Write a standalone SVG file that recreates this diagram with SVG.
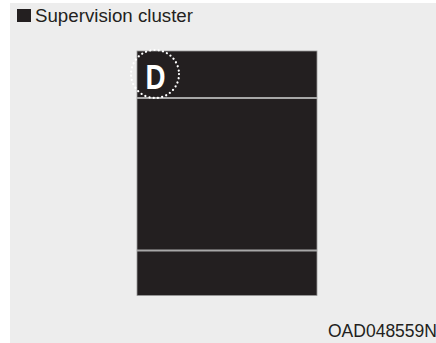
<svg xmlns="http://www.w3.org/2000/svg" width="436" height="343" viewBox="0 0 436 343">
<style>
.t{font-family:"Liberation Sans",Arial,sans-serif;fill:#231f20}
.sep{stroke:#a7a7a7;stroke-width:2}
</style>
<rect x="0" y="0" width="436" height="343" fill="#ffffff"/>
<rect x="10" y="3" width="426" height="340" fill="#ededed"/>
<g id="title">
<rect x="17" y="9" width="14" height="13" fill="#231f20"/>
<text class="t" x="35" y="22" font-size="17.5" textLength="158" lengthAdjust="spacingAndGlyphs">Supervision cluster</text>
</g>
<g id="cluster">
<rect x="137" y="51" width="180" height="244.5" fill="#231f20" stroke="#9a9a9a" stroke-width="0.8"/>
<line class="sep" x1="137" y1="98" x2="317" y2="98"/>
<line class="sep" x1="137" y1="250.5" x2="317" y2="250.5"/>
</g>
<g id="gear-indicator">
<circle cx="155" cy="74" r="24" fill="none" stroke="#ffffff" stroke-width="2.2" stroke-dasharray="0.1 4.2" stroke-linecap="round"/>
<text x="155.5" y="88.5" font-family="Liberation Sans,Arial,sans-serif" font-weight="bold" font-size="35.5" fill="#ffffff" text-anchor="middle" textLength="20" lengthAdjust="spacingAndGlyphs">D</text>
</g>
<text class="t" x="328" y="337" font-size="17.5">OAD048559N</text>
</svg>
